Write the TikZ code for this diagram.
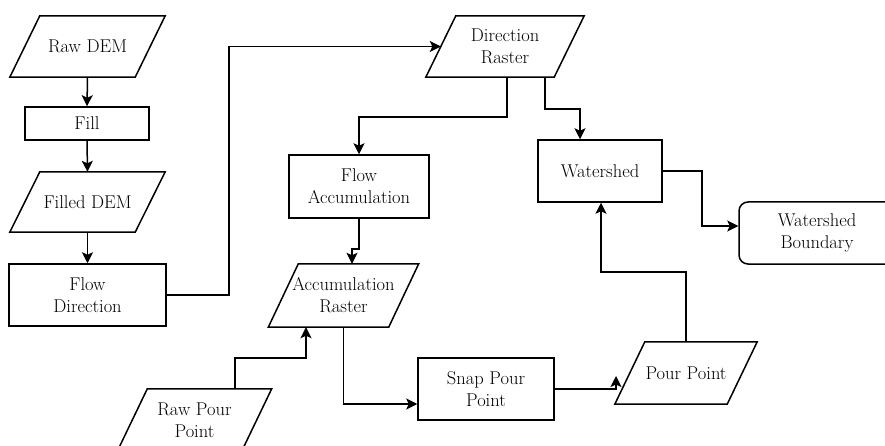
\documentclass[tikz,border=0pt]{standalone}
\usetikzlibrary{arrows.meta}
\tikzset{
  conn/.style={draw=black, line width=1.5pt, -{Stealth[length=11pt,width=11pt,inset=2.5pt]}},
  plain/.style={draw=black, line width=1.5pt},
  box/.style={draw=black, line width=1.5pt, rectangle, align=center, text=black,
    font=\fontsize{18.5}{22}\selectfont, inner sep=2pt},
  rbox/.style={box, rounded corners=9pt},
  paratext/.style={rectangle, align=center, text=black,
    font=\fontsize{18.5}{22}\selectfont, inner sep=2pt}
}
\newcommand\paranode[6]{% name, x, y, text, mid width, height
  \node[paratext, minimum width=#5, minimum height=#6] (#1) at (#2,#3) {#4};
  \draw[plain] ([xshift=15pt]#1.north west) -- ([xshift=15pt]#1.north east)
    -- ([xshift=-15pt]#1.south east) -- ([xshift=-15pt]#1.south west) -- cycle;
}
\begin{document}
\begin{tikzpicture}[x=1pt,y=-1pt]
\useasboundingbox (0,0) rectangle (885,446);

% parallelograms
\paranode{rawdem}{87.5}{46.5}{Raw DEM}{125pt}{61pt}
\paranode{filleddem}{87.5}{202}{Filled DEM}{125pt}{60pt}
\paranode{dirraster}{505}{46.5}{Direction\\Raster}{128pt}{61pt}
\paranode{accraster}{343.5}{295.5}{Accumulation\\Raster}{120pt}{63pt}
\paranode{rawpour}{194.5}{420}{Raw Pour\\Point}{124pt}{62pt}
\paranode{pourpoint}{686}{373}{Pour Point}{112pt}{62pt}

% rectangles
\node[box, minimum width=124pt, minimum height=33pt] (fill) at (87,123.5) {Fill};
\node[box, minimum width=157pt, minimum height=62pt] (flowdir) at (87.5,295) {Flow\\Direction};
\node[box, minimum width=140pt, minimum height=63pt] (flowacc) at (359,186.5) {Flow\\Accumulation};
\node[box, minimum width=124pt, minimum height=62pt] (watershed) at (600,171) {Watershed};
\node[box, minimum width=136pt, minimum height=62pt] (snap) at (486,389) {Snap Pour\\Point};
\node[rbox, minimum width=156pt, minimum height=62pt] (boundary) at (817,233) {Watershed\\Boundary};

\coordinate (pptip) at (616,376);

% connectors
\draw[conn] (rawdem.south) -- (fill.north);
\draw[conn] (fill.south) -- (filleddem.north);
\draw[conn] (filleddem.south) -- (flowdir.north);
\draw[conn] (flowdir.east) -- ++(62,0) |- (dirraster.west);
\draw[conn] ([xshift=2pt]dirraster.south) -- ++(0,40) -| (flowacc.north);
\draw[conn] ([xshift=40pt]dirraster.south) -- ++(0,32) -| ([xshift=-20pt]watershed.north);
\draw[conn] (watershed.east) -- ++(39,0) |- ([yshift=7pt]boundary.west);
\draw[conn] (flowacc.south) -- ++(0,30) -| ([xshift=8.5pt]accraster.north);
\draw[conn] ([xshift=40.5pt]rawpour.north) -- ++(0,-31) -| ([xshift=-37.5pt]accraster.south);
\draw[conn] (accraster.south) |- ([yshift=-15pt]snap.west);
\draw[conn] (snap.east) -| (pptip);
\draw[conn] (pourpoint.north) -- ++(0,-70) -| ([xshift=1pt]watershed.south);
\end{tikzpicture}
\end{document}
